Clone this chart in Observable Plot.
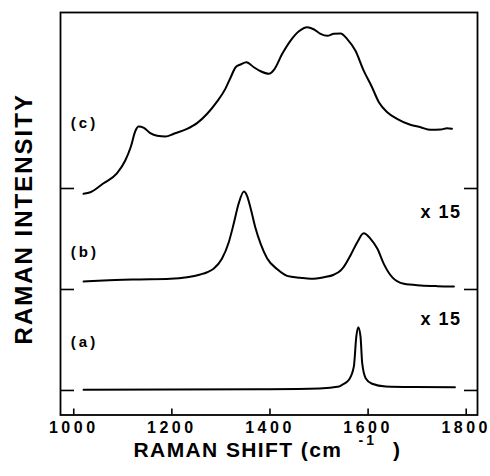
<!DOCTYPE html>
<html><head><meta charset="utf-8">
<script src="https://cdn.jsdelivr.net/npm/d3@7"></script>
<script src="https://cdn.jsdelivr.net/npm/@observablehq/plot@0.6"></script>
<style>
body{margin:0;background:#fff}
#chart svg{display:block}
</style>
</head><body><div id="chart"></div>
<script>
// Spectrum (a)
const waveA = [1020,1201,1397,1501,1541,1547,1561,1571,1576,1580,1584.5,1588,1595,1608,1636,1695,1777];
const intenA = [0.7,1,1.3,2,4,5.6,10.6,23.8,53.5,62.7,53.5,27,12.2,6.6,4,3.5,3.3];
// Spectrum (b)
const waveB = [1020,1061,1129,1197,1231,1258,1272,1285,1302,1316,1326,1336,1347,1353,1360,1370,1381,1394,1415,1435,1462,1483,1510,1530,1544,1550,1564,1578,1591,1605,1619,1632,1649,1673,1707,1741,1775];
const intenB = [7.9,8.9,9.9,10.6,12.2,14.9,17.1,20.5,30.4,46.8,65,84.9,97,93,81.5,61.7,45.2,31,20,13.5,11.6,10.6,12.2,14.6,18.8,22.1,33.7,46.8,55.7,50.2,40.3,25.4,12.2,5.6,4,3.3,3];
// Spectrum (c)
const waveC = [1020,1034,1060,1088,1105,1116,1126,1132,1143,1156,1170,1187,1204,1231,1252,1272,1292,1309,1320,1330,1340,1352,1367,1381,1398,1408,1425,1442,1459,1476,1489,1503,1517,1530,1544,1557,1574,1591,1608,1622,1639,1659,1686,1707,1727,1748,1761,1771];
const intenC = [-5.2,-3.7,5,14.9,27.7,40.9,57.4,61.4,60.1,54.8,52.2,51.5,54.2,59.1,65,74,86,98.7,110.2,120.1,122.8,125,120.1,116.1,113.6,117.5,133.4,146.5,155.7,159.7,157.7,153.2,151.2,153.2,153.5,148.2,136.6,116.8,100.3,85.4,75.5,69,63.1,60.7,58.1,58.4,59.7,59.1];

const seriesNames = ["(a)","(b)","(c)"];
const baselines = [0,100,200];
const labelHeights = [48,37,65];
const gainLabels = ["x 15","x 15"];
const gainHeights = [70.8,76.7];
const xTicks = [1000,1200,1400,1600,1800];

const waves = [waveA, waveB, waveC];
const intens = [intenA, intenB, intenC];
const rows = [];
seriesNames.forEach((s, i) => {
  waves[i].forEach((w, j) => rows.push({series: s, wave: w, y: baselines[i] + intens[i][j]}));
});
const labelRows = seriesNames.map((s, i) => ({text: s, y: baselines[i] + labelHeights[i]}));
const gainRows = gainLabels.map((t, i) => ({text: t, y: baselines[i] + gainHeights[i]}));

const font = "Liberation Sans, Arial, Helvetica, sans-serif";
const chart = Plot.plot({
  width: 490, height: 476,
  marginLeft: 60, marginRight: 13, marginTop: 12, marginBottom: 61.5,
  x: {domain: [973, 1823]},
  y: {domain: [-24.3, 374.3]},
  style: {fontFamily: font, color: "#000", background: "#fff"},
  marks: [
    Plot.frame({stroke: "#000", strokeWidth: 1.8}),
    Plot.axisX({ticks: xTicks, tickSize: -6, tickFormat: () => "", label: null, strokeWidth: 1.6}),
    Plot.axisX({ticks: xTicks, tickSize: 0, tickPadding: 7, tickFormat: d => String(d), label: null, fontSize: 16, fontWeight: "bold"}),
    Plot.axisY({anchor: "left", ticks: baselines, tickSize: -14, tickFormat: () => "", label: null, strokeWidth: 1.6}),
    Plot.axisY({anchor: "right", ticks: baselines, tickSize: -14, tickFormat: () => "", label: null, strokeWidth: 1.6}),
    Plot.line(rows, {x: "wave", y: "y", z: "series", stroke: "#000", strokeWidth: 2, curve: "monotone-x"}),
    Plot.text(labelRows, {x: () => 994, y: "y", text: "text", textAnchor: "start", lineAnchor: "middle", fontSize: 15, fontWeight: "bold"}),
    Plot.text(gainRows, {x: () => 1707, y: "y", text: "text", textAnchor: "start", lineAnchor: "middle", fontSize: 18, fontWeight: "bold"}),
    Plot.text(["RAMAN INTENSITY"], {frameAnchor: "left", textAnchor: "middle", lineAnchor: "middle", rotate: -90, dx: -36, dy: 5, fontSize: 24, fontWeight: "bold"}),
    Plot.text(["RAMAN SHIFT (cm"], {frameAnchor: "bottom", textAnchor: "start", lineAnchor: "middle", dx: -135.5, dy: 35, fontSize: 21, fontWeight: "bold"}),
    Plot.text(["-1"], {frameAnchor: "bottom", textAnchor: "start", lineAnchor: "middle", dx: 89.5, dy: 26, fontSize: 14, fontWeight: "bold"}),
    Plot.text([")"], {frameAnchor: "bottom", textAnchor: "start", lineAnchor: "middle", dx: 124, dy: 35, fontSize: 21, fontWeight: "bold"})
  ]
});
// letter spacing of the widely spaced lettering
const spacing = {"RAMAN INTENSITY": 2, "RAMAN SHIFT (cm": 1.4, "-1": 3, "(a)": 3, "(b)": 3, "(c)": 3, "x 15": 1.5};
chart.querySelectorAll("text").forEach(t => {
  const s = t.textContent;
  if (s in spacing) t.style.letterSpacing = spacing[s] + "px";
  else if (/^\d{4}$/.test(s)) t.style.letterSpacing = "3.5px";
});
document.getElementById("chart").appendChild(chart);
</script>
</body></html>
